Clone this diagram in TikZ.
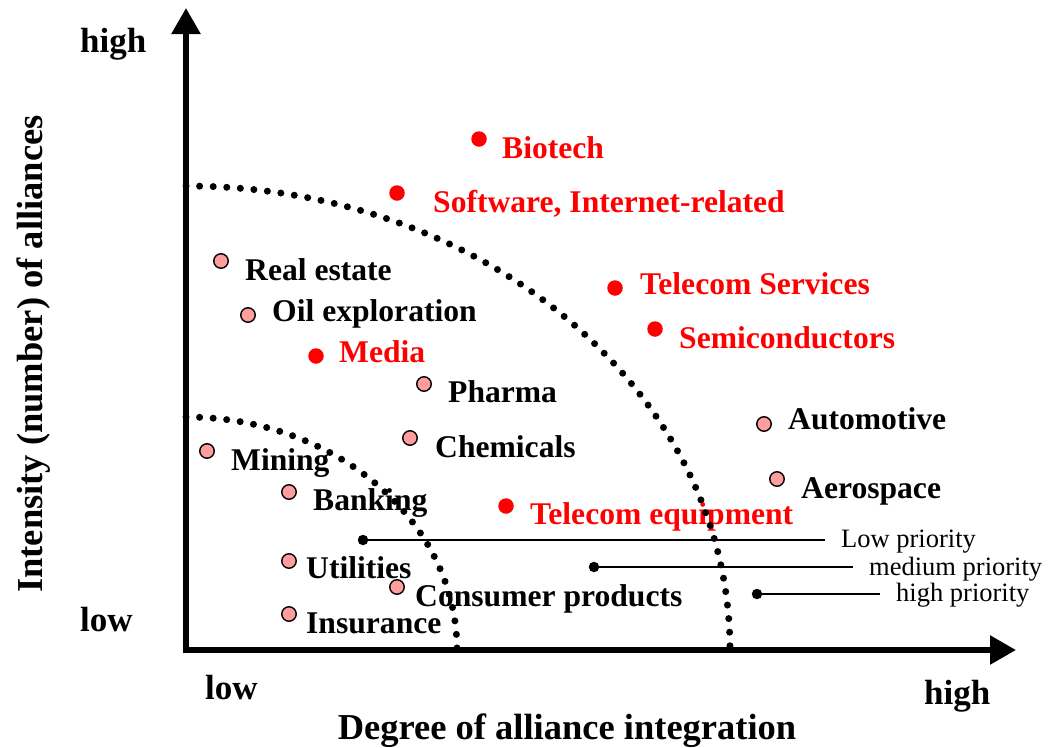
\documentclass[tikz,border=0pt]{standalone}
\usepackage{fontspec}
\setmainfont{Liberation Serif}
\usetikzlibrary{arrows.meta}
\definecolor{hotred}{RGB}{255,0,0}
\definecolor{pinkfill}{RGB}{255,158,158}
\begin{document}
\begin{tikzpicture}[x=1pt,y=-1pt,
  lbl/.style={anchor=base west, inner sep=0pt, font=\fontsize{31.6}{31.6}\selectfont\bfseries},
  redlbl/.style={lbl, text=hotred},
  axlbl/.style={inner sep=0pt, font=\fontsize{35}{35}\selectfont\bfseries},
  titlelbl/.style={inner sep=0pt, font=\fontsize{36.5}{36.5}\selectfont\bfseries},
  leglbl/.style={anchor=base west, inner sep=0pt, font=\fontsize{26.5}{26.5}\selectfont},
  reddot/.style={circle, fill=hotred, draw=none, minimum size=15.5pt, inner sep=0pt},
  pinkdot/.style={circle, fill=pinkfill, draw=black, line width=1.4pt, minimum size=14.5pt, inner sep=0pt},
  legdot/.style={circle, fill=black, minimum size=10.5pt, inner sep=0pt},
  legline/.style={line width=2pt},
  axis/.style={line width=5.5pt, line join=miter, {Triangle[length=26pt,width=28pt]}-{Triangle[length=26pt,width=28pt]}},
  boundary/.style={line width=7pt, line cap=round, dash pattern=on 0pt off 13.6pt}
]
\useasboundingbox (0,0) rectangle (1049,747);

% axes
\coordinate (ytip) at (186,8);
\coordinate (origin) at (186,650);
\coordinate (xtip) at (1016,650);
\draw[axis] (ytip) -- (origin) -- (xtip);

% axis labels
\node[axlbl, anchor=base west] (yhigh) at (80,52) {high};
\node[axlbl, anchor=base west] (ylow) at (80,631) {low};
\node[axlbl, anchor=base west] (xlow) at (205,699) {low};
\node[axlbl, anchor=base west] (xhigh) at (924,704) {high};
\node[titlelbl, anchor=base] (xtitle) at (567,739) {Degree of alliance integration};
\node[titlelbl, anchor=base, rotate=90] (ytitle) at (42,354) {Intensity (number) of alliances};

% red (high priority) industries
\node[reddot] (d-bio) at (479,139) {};
\node[redlbl] (t-bio) at (502,158) {Biotech};
\node[reddot] (d-soft) at (397,193) {};
\node[redlbl] (t-soft) at (433,212) {Software, Internet-related};
\node[reddot] (d-tels) at (615,288) {};
\node[redlbl] (t-tels) at (640,294) {Telecom Services};
\node[reddot] (d-semi) at (655,329) {};
\node[redlbl] (t-semi) at (679,348) {Semiconductors};
\node[reddot] (d-media) at (316,356) {};
\node[redlbl] (t-media) at (339,362) {Media};
\node[reddot] (d-tele) at (506,506) {};
\node[redlbl] (t-tele) at (530,524) {Telecom equipment};

% pink industries
\node[pinkdot] (d-real) at (221,261) {};
\node[lbl] (t-real) at (245,280) {Real estate};
\node[pinkdot] (d-oil) at (248,315) {};
\node[lbl] (t-oil) at (272,321) {Oil exploration};
\node[pinkdot] (d-pharma) at (424,384) {};
\node[lbl] (t-pharma) at (448,402) {Pharma};
\node[pinkdot] (d-chem) at (410,438) {};
\node[lbl] (t-chem) at (435,457) {Chemicals};
\node[pinkdot] (d-mining) at (207,451) {};
\node[lbl] (t-mining) at (231,470) {Mining};
\node[pinkdot] (d-bank) at (289,492) {};
\node[lbl] (t-bank) at (313,510) {Banking};
\node[pinkdot] (d-util) at (289,561) {};
\node[lbl] (t-util) at (306,578) {Utilities};
\node[pinkdot] (d-cons) at (397,587) {};
\node[lbl] (t-cons) at (415,606) {Consumer products};
\node[pinkdot] (d-ins) at (289,614) {};
\node[lbl] (t-ins) at (306,633) {Insurance};
\node[pinkdot] (d-auto) at (764,424) {};
\node[lbl] (t-auto) at (788,429) {Automotive};
\node[pinkdot] (d-aero) at (777,479) {};
\node[lbl] (t-aero) at (801,498) {Aerospace};

% priority boundaries
\draw[boundary] (186,186) arc[start angle=-90, end angle=0, x radius=544, y radius=464];
\draw[boundary] (186,417) arc[start angle=-90, end angle=0, x radius=271, y radius=233];

% legend
\node[legdot] (l-low) at (363,540) {};
\coordinate (l-low-end) at (825,540);
\draw[legline] (l-low) -- (l-low-end);
\node[leglbl] (t-low) at (841,547) {Low priority};
\node[legdot] (l-med) at (594,567) {};
\coordinate (l-med-end) at (853,567);
\draw[legline] (l-med) -- (l-med-end);
\node[leglbl] (t-med) at (869,575) {medium priority};
\node[legdot] (l-high) at (757,594) {};
\coordinate (l-high-end) at (880,594);
\draw[legline] (l-high) -- (l-high-end);
\node[leglbl] (t-high) at (896,601) {high priority};
\end{tikzpicture}
\end{document}
